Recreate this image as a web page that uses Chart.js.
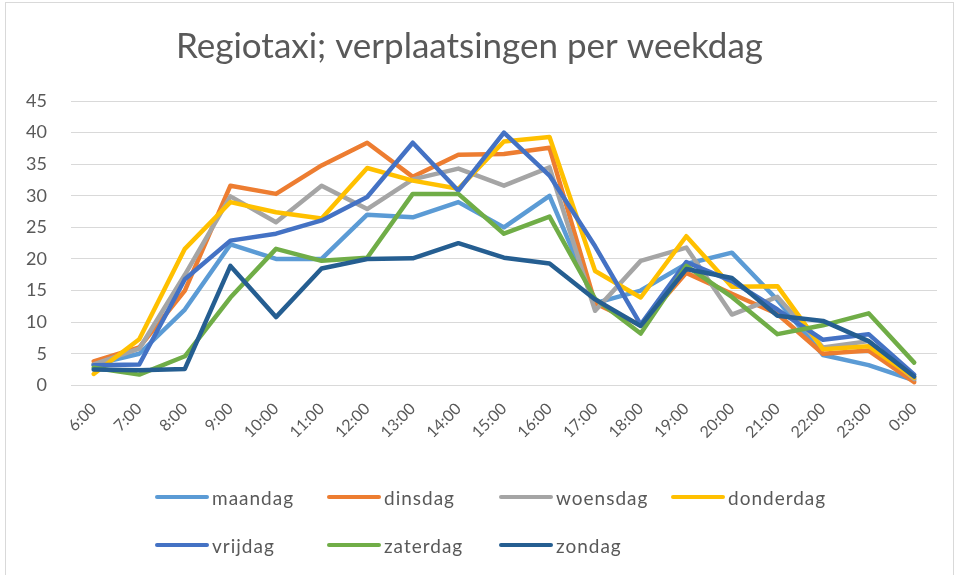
<!DOCTYPE html>
<html>
<head>
<meta charset="utf-8">
<script src="https://cdn.jsdelivr.net/npm/chart.js@4.4.0/dist/chart.umd.min.js"></script>
<style>
    html, body { margin: 0; padding: 0; background: #fff; overflow: hidden; }
    #wrap { position: relative; width: 963px; height: 575px; }
    #frame {
        position: absolute; left: 5px; top: 2px; width: 949px; height: 600px;
        border: 1px solid #d9d9d9; box-sizing: border-box; pointer-events: none;
    }
    #chart { position: absolute; left: 0; top: 0; }
    #legend {
        position: absolute; left: 155px; top: 484px;
        display: grid; grid-template-columns: repeat(4, 172px); row-gap: 22px;
        font-family: Lato, sans-serif; font-size: 19px; letter-spacing: 1px; color: #595959;
    }
    .item { display: flex; align-items: center; height: 26px; }
    .swatch { width: 54px; height: 4px; margin-right: 3px; border-radius: 2px; }
</style>
</head>
<body>
<div id="wrap">
    <canvas id="chart" width="963" height="575"></canvas>
    <div id="frame"></div>
    <div id="legend"></div>
</div>
<script>
    const hours = ['6:00', '7:00', '8:00', '9:00', '10:00', '11:00', '12:00', '13:00', '14:00', '15:00',
        '16:00', '17:00', '18:00', '19:00', '20:00', '21:00', '22:00', '23:00', '0:00'];

    const maandag   = [3.3, 5, 12, 22.3, 20, 20, 27, 26.6, 29, 25, 30, 13, 15, 19.2, 21, 13.5, 4.8, 3.2, 0.8];
    const dinsdag   = [3.8, 6, 15, 31.6, 30.3, 34.8, 38.4, 33, 36.5, 36.6, 37.6, 13, 9.5, 17.8, 14.5, 11.3, 5, 5.5, 0.5];
    const woensdag  = [3.3, 5.8, 17.5, 29.9, 25.8, 31.6, 27.9, 32.6, 34.3, 31.6, 34.5, 11.8, 19.7, 21.8, 11.2, 14, 6, 7, 1];
    const donderdag = [1.8, 7.3, 21.6, 29, 27.4, 26.4, 34.4, 32.4, 31.1, 38.6, 39.3, 18.1, 13.9, 23.6, 15.6, 15.7, 5.7, 6.2, 1.2];
    const vrijdag   = [3.2, 3.3, 16.8, 22.9, 24, 26.1, 29.8, 38.4, 30.8, 40, 33.2, 22, 9.6, 19.5, 16.5, 12, 7.2, 8.1, 1.7];
    const zaterdag  = [2.8, 1.7, 4.6, 13.9, 21.6, 19.7, 20.2, 30.3, 30.3, 24, 26.7, 13.7, 8.2, 18.9, 14, 8.1, 9.5, 11.4, 3.6];
    const zondag    = [2.5, 2.4, 2.6, 18.9, 10.8, 18.5, 20, 20.1, 22.5, 20.2, 19.3, 13.6, 9.4, 18.4, 17, 11, 10.2, 7, 1.4];

    const seriesNames = ['maandag', 'dinsdag', 'woensdag', 'donderdag', 'vrijdag', 'zaterdag', 'zondag'];
    const seriesValues = [maandag, dinsdag, woensdag, donderdag, vrijdag, zaterdag, zondag];
    const seriesColors = ['#5B9BD5', '#ED7D31', '#A5A5A5', '#FFC000', '#4472C4', '#70AD47', '#255E91'];

    const textColor = '#595959';
    const gridColor = '#d9d9d9';

    // Excel draws later series on top, so the order is reversed
    const datasets = seriesNames.map((name, i) => ({
        label: name,
        data: seriesValues[i],
        borderColor: seriesColors[i],
        backgroundColor: seriesColors[i],
        borderWidth: 4.5,
        pointRadius: 0,
        fill: false,
        tension: 0,
        borderJoinStyle: 'round',
        borderCapStyle: 'round',
        order: seriesNames.length - i
    }));

    // Legend in a fixed grid like Excel's
    const legendEl = document.getElementById('legend');
    seriesNames.forEach((name, i) => {
        const item = document.createElement('div');
        item.className = 'item';
        const swatch = document.createElement('span');
        swatch.className = 'swatch';
        swatch.style.background = seriesColors[i];
        const label = document.createElement('span');
        label.textContent = name;
        item.appendChild(swatch);
        item.appendChild(label);
        legendEl.appendChild(item);
    });

    const ctx = document.getElementById('chart').getContext('2d');
    new Chart(ctx, {
        type: 'line',
        data: { labels: hours, datasets: datasets },
        options: {
            responsive: false,
            animation: false,
            layout: { padding: { top: 6, left: 2, right: 26, bottom: 127 } },
            plugins: {
                legend: { display: false },
                tooltip: { enabled: false },
                title: {
                    display: true,
                    text: 'Regiotaxi; verplaatsingen per weekdag',
                    color: textColor,
                    font: { family: 'Lato', size: 35, weight: 'normal' },
                    padding: { top: 20, bottom: 33 }
                }
            },
            scales: {
                x: {
                    offset: true,
                    grid: { display: false },
                    border: { display: false },
                    ticks: {
                        color: textColor,
                        font: { family: 'Lato', size: 16 },
                        minRotation: 45,
                        maxRotation: 45,
                        padding: 6
                    }
                },
                y: {
                    min: 0,
                    max: 45,
                    grid: { color: gridColor, drawTicks: false },
                    border: { display: false },
                    ticks: {
                        stepSize: 5,
                        color: textColor,
                        font: { family: 'Lato', size: 18 },
                        padding: 24
                    }
                }
            }
        }
    });
</script>
</body>
</html>
